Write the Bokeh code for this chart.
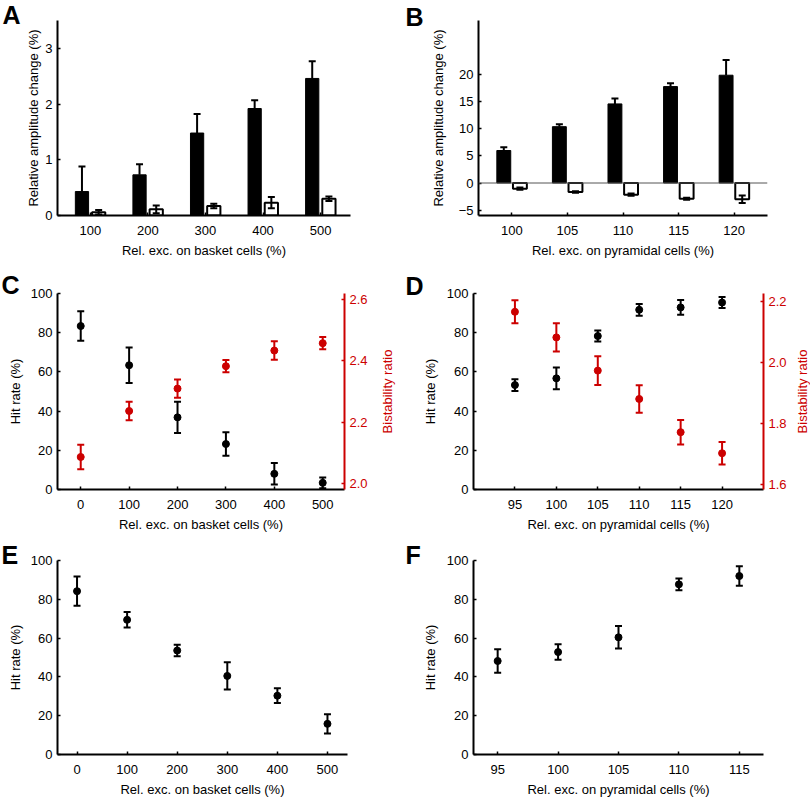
import math
from bokeh.plotting import figure
from bokeh.layouts import column, row
from bokeh.models import (ColumnDataSource, Whisker, TeeHead, LinearAxis, Range1d,
                          FixedTicker, Label, Span)
from bokeh.embed import file_html
from bokeh.resources import INLINE

# ---------------- data ----------------
# Panel A: relative amplitude change vs rel. exc. on basket cells
a_labels = ["100", "200", "300", "400", "500"]
a_black = [0.43, 0.73, 1.48, 1.92, 2.46]
a_black_err = [0.45, 0.19, 0.34, 0.15, 0.31]
a_white = [0.06, 0.11, 0.17, 0.23, 0.30]
a_white_err = [0.04, 0.07, 0.04, 0.10, 0.04]
a_yticks = [0, 1, 2, 3]

# Panel B: relative amplitude change vs rel. exc. on pyramidal cells
b_labels = ["100", "105", "110", "115", "120"]
b_black = [6.0, 10.4, 14.6, 17.8, 19.9]
b_black_err = [0.6, 0.45, 1.0, 0.6, 2.8]
b_white = [-1.05, -1.65, -2.15, -2.9, -3.0]
b_white_err = [0.2, 0.15, 0.2, 0.2, 0.7]
b_yticks = [-5, 0, 5, 10, 15, 20]

# Panel C
c_x = [0, 100, 200, 300, 400, 500]
c_hit = [83.4, 63.4, 36.8, 23.2, 8.0, 3.4]
c_hit_err = [7.5, 9.0, 8.0, 6.0, 5.5, 2.7]
c_ratio = [2.087, 2.237, 2.31, 2.383, 2.434, 2.458]
c_ratio_err = [0.04, 0.03, 0.03, 0.02, 0.03, 0.02]
c_ratio_ticks = [2.0, 2.2, 2.4, 2.6]
c_ratio_tick_labels = ["2.0", "2.2", "2.4", "2.6"]

# Panel D
d_x = [95, 100, 105, 110, 115, 120]
d_hit = [53.3, 56.7, 78.3, 91.7, 92.9, 95.4]
d_hit_err = [3.0, 5.5, 2.8, 3.0, 3.8, 2.8]
d_ratio = [2.167, 2.083, 1.974, 1.881, 1.772, 1.703]
d_ratio_err = [0.038, 0.046, 0.047, 0.045, 0.04, 0.037]
d_ratio_ticks = [1.6, 1.8, 2.0, 2.2]
d_ratio_tick_labels = ["1.6", "1.8", "2.0", "2.2"]

# Panel E
e_x = [0, 100, 200, 300, 400, 500]
e_hit = [84.2, 69.4, 53.6, 40.5, 30.3, 15.8]
e_hit_err = [7.5, 4.0, 3.0, 7.0, 3.8, 5.0]

# Panel F
f_x = [95, 100, 105, 110, 115]
f_hit = [48.2, 52.8, 60.4, 87.7, 92.0]
f_hit_err = [6.0, 4.0, 5.8, 3.0, 5.0]

hit_ticks = [0, 20, 40, 60, 80, 100]

FONT = "Liberation Sans"
RED = "#cc0000"


def style_axis(ax, color="black", tick_standoff=5, label_standoff=5):
    ax.axis_line_width = 2
    ax.axis_line_color = color
    ax.major_tick_in = 3
    ax.major_tick_out = 0
    ax.major_tick_line_color = color
    ax.major_tick_line_width = 1.5
    ax.minor_tick_line_color = None
    ax.major_label_text_font = FONT
    ax.major_label_text_font_size = "13px"
    ax.major_label_text_color = color
    ax.major_label_standoff = tick_standoff
    ax.axis_label_text_font = FONT
    ax.axis_label_text_font_size = "13px"
    ax.axis_label_text_font_style = "normal"
    ax.axis_label_text_color = color
    ax.axis_label_standoff = label_standoff


class Panel:
    def __init__(self, bl, fw, br, bt, fh, bb, xr, yr):
        self.bl, self.fw, self.br, self.bt, self.fh, self.bb = bl, fw, br, bt, fh, bb
        self.xr, self.yr = xr, yr
        p = figure(frame_width=fw, frame_height=fh,
                   min_border_left=bl, min_border_right=br,
                   min_border_top=bt, min_border_bottom=bb,
                   x_range=Range1d(*xr), y_range=Range1d(*yr),
                   output_backend="svg", toolbar_location=None, tools="")
        p.outline_line_color = None
        p.xgrid.visible = False
        p.ygrid.visible = False
        p.background_fill_color = "white"
        p.border_fill_color = "white"
        style_axis(p.xaxis[0], tick_standoff=10, label_standoff=5)
        style_axis(p.yaxis[0], tick_standoff=5)
        self.p = p

    # canvas pixel -> data coordinate (for text placement in the margins)
    def cx(self, px):
        return self.xr[0] + (px - self.bl) / self.fw * (self.xr[1] - self.xr[0])

    def cy(self, py):
        return self.yr[1] - (py - self.bt) / self.fh * (self.yr[1] - self.yr[0])

    def text(self, px, py, txt, side, **kw):
        self.p.add_layout(Label(x=self.cx(px), y=self.cy(py), text=txt,
                                text_font=FONT, **kw), side)

    def letter(self, txt, px, py, side):
        self.text(px, py, txt, side, text_font_size="25px", text_font_style="bold",
                  text_baseline="top", text_align="left", text_color="black")

    def ylabel(self, txt, px, color="black"):
        self.text(px, self.bt + self.fh / 2, txt, "left", angle=math.pi / 2,
                  text_align="center", text_baseline="middle",
                  text_font_size="13px", text_color=color)


def whisk(p, x, y, err, color="black", range_name=None, upper_only=False):
    up = [v + e for v, e in zip(y, err)]
    lo = list(y) if upper_only else [v - e for v, e in zip(y, err)]
    src = ColumnDataSource(dict(x=x, up=up, lo=lo))
    kw = {}
    if range_name:
        kw["y_range_name"] = range_name
    w = Whisker(source=src, base="x", upper="up", lower="lo",
                upper_head=TeeHead(size=7, line_width=2, line_color=color),
                lower_head=None if upper_only else TeeHead(size=7, line_width=2, line_color=color),
                line_width=2, line_color=color, level="annotation", **kw)
    p.add_layout(w)


# ---------------- Panel A ----------------
A = Panel(57, 293, 55, 20, 195, 55, (0.43, 5.52), (0, 3.5))
pA = A.p
idx = [i + 1 for i in range(len(a_labels))]
xa_b = [i - 0.145 for i in idx]
xa_w = [i + 0.145 for i in idx]
pA.vbar(x=xa_b, top=a_black, bottom=0, width=0.23, fill_color="black", line_color="black")
pA.vbar(x=xa_w, top=a_white, bottom=0, width=0.23, fill_color="white", line_color="black", line_width=2)
whisk(pA, xa_b, a_black, a_black_err, upper_only=True)
whisk(pA, xa_w, a_white, a_white_err)
pA.xaxis[0].ticker = FixedTicker(ticks=idx)
pA.xaxis[0].major_label_overrides = {i: l for i, l in zip(idx, a_labels)}
pA.yaxis[0].ticker = FixedTicker(ticks=a_yticks)
pA.xaxis[0].axis_label = "Rel. exc. on basket cells (%)"
A.ylabel("Relative amplitude change (%)", 33)
A.letter("A", 2, 0, "right")

# ---------------- Panel B ----------------
B = Panel(73, 289, 43, 18, 195, 57, (0.4, 5.6), (-6, 30))
pB = B.p
idx = [i + 1 for i in range(len(b_labels))]
xb_b = [i - 0.145 for i in idx]
xb_w = [i + 0.145 for i in idx]
pB.vbar(x=xb_b, top=b_black, bottom=0, width=0.25, fill_color="black", line_color="black")
pB.vbar(x=xb_w, top=b_white, bottom=0, width=0.25, fill_color="white", line_color="black", line_width=2)
pB.add_layout(Span(location=0, dimension="width", line_color="#555555", line_width=1))
whisk(pB, xb_b, b_black, b_black_err, upper_only=True)
whisk(pB, xb_w, b_white, b_white_err)
pB.xaxis[0].ticker = FixedTicker(ticks=idx)
pB.xaxis[0].major_label_overrides = {i: l for i, l in zip(idx, b_labels)}
pB.yaxis[0].ticker = FixedTicker(ticks=b_yticks)
pB.xaxis[0].axis_label = "Rel. exc. on pyramidal cells (%)"
B.ylabel("Relative amplitude change (%)", 33)
B.letter("B", 0, 0, "left")


def dual(P, x, hit, hit_err, ratio, ratio_err, rrange, rticks, rlabels, label_px):
    p = P.p
    p.extra_y_ranges = {"ratio": Range1d(*rrange)}
    ax = LinearAxis(y_range_name="ratio",
                    ticker=FixedTicker(ticks=rticks),
                    major_label_overrides={t: l for t, l in zip(rticks, rlabels)})
    style_axis(ax, color=RED)
    p.add_layout(ax, "right")
    whisk(p, x, ratio, ratio_err, color=RED, range_name="ratio")
    p.scatter(x, ratio, size=7, color=RED, y_range_name="ratio")
    whisk(p, x, hit, hit_err)
    p.scatter(x, hit, size=7, color="black")
    P.text(label_px, P.bt + P.fh / 2, "Bistability ratio", "right", angle=math.pi / 2,
           text_align="center", text_baseline="middle",
           text_font_size="13px", text_color=RED)


# ---------------- Panel C ----------------
C = Panel(57, 287, 61, 23, 196, 51, (-48, 545), (0, 100))
pC = C.p
dual(C, c_x, c_hit, c_hit_err, c_ratio, c_ratio_err, (1.981, 2.62),
     c_ratio_ticks, c_ratio_tick_labels, 387)
pC.xaxis[0].ticker = FixedTicker(ticks=c_x)
pC.yaxis[0].ticker = FixedTicker(ticks=hit_ticks)
pC.xaxis[0].axis_label = "Rel. exc. on basket cells (%)"
C.ylabel("Hit rate (%)", 15)
C.letter("C", 1, 0, "right")

# ---------------- Panel D ----------------
D = Panel(68, 290, 47, 22, 196, 52, (90, 125), (0, 100))
pD = D.p
dual(D, d_x, d_hit, d_hit_err, d_ratio, d_ratio_err, (1.584, 2.227),
     d_ratio_ticks, d_ratio_tick_labels, 397)
pD.xaxis[0].ticker = FixedTicker(ticks=d_x)
pD.yaxis[0].ticker = FixedTicker(ticks=hit_ticks)
pD.xaxis[0].axis_label = "Rel. exc. on pyramidal cells (%)"
D.ylabel("Hit rate (%)", 25)
D.letter("D", 0, 0, "left")

# ---------------- Panel E ----------------
E = Panel(57, 290, 58, 20, 194, 47, (-39, 540), (0, 100))
pE = E.p
whisk(pE, e_x, e_hit, e_hit_err)
pE.scatter(e_x, e_hit, size=7, color="black")
pE.xaxis[0].ticker = FixedTicker(ticks=e_x)
pE.yaxis[0].ticker = FixedTicker(ticks=hit_ticks)
pE.xaxis[0].axis_label = "Rel. exc. on basket cells (%)"
E.ylabel("Hit rate (%)", 15)
E.letter("E", 1, 0, "right")

# ---------------- Panel F ----------------
F = Panel(68, 290, 47, 20, 194, 47, (93, 117), (0, 100))
pF = F.p
whisk(pF, f_x, f_hit, f_hit_err)
pF.scatter(f_x, f_hit, size=7, color="black")
pF.xaxis[0].ticker = FixedTicker(ticks=f_x)
pF.yaxis[0].ticker = FixedTicker(ticks=hit_ticks)
pF.xaxis[0].axis_label = "Rel. exc. on pyramidal cells (%)"
F.ylabel("Hit rate (%)", 25)
F.letter("F", 0, 0, "left")

layout = column(row(pA, pB), row(pC, pD), row(pE, pF))
open("out.html", "w").write(file_html(layout, INLINE))
